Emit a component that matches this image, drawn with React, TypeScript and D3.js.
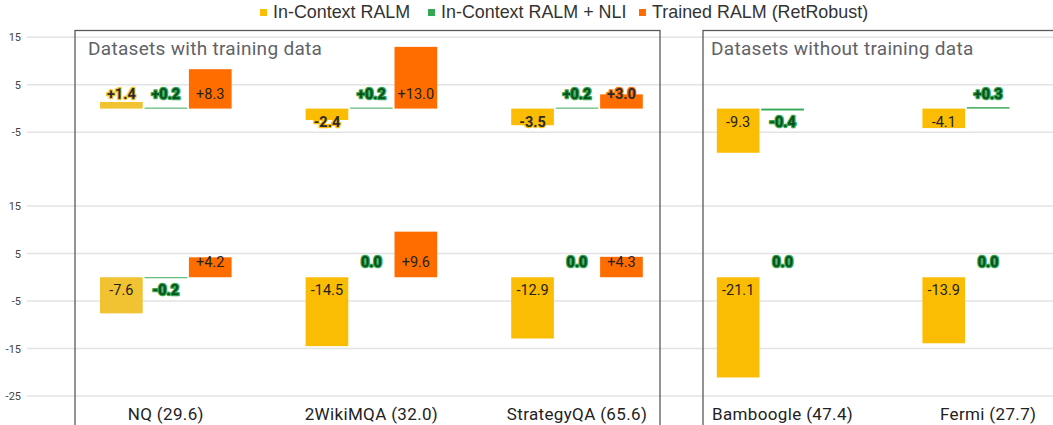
import React from 'react';
import * as d3 from 'd3';

const categories = ['NQ (29.6)', '2WikiMQA (32.0)', 'StrategyQA (65.6)', 'Bamboogle (47.4)', 'Fermi (27.7)'];
const seriesNames = ['In-Context RALM', 'In-Context RALM + NLI', 'Trained RALM (RetRobust)'];
const seriesColors = ['#fbbc04', '#34a853', '#ff6d01'];

// upper panel values
const icRalmTop = [1.4, -2.4, -3.5, -9.3, -4.1];
const nliTop = [0.2, 0.2, 0.2, -0.4, 0.3];
const retRobustTop = [8.3, 13.0, 3.0, null, null];

// lower panel values
const icRalmBottom = [-7.6, -14.5, -12.9, -21.1, -13.9];
const nliBottom = [-0.2, 0.0, 0.0, 0.0, 0.0];
const retRobustBottom = [4.2, 9.6, 4.3, null, null];

const topTicks = [15, 5, -5];
const bottomTicks = [15, 5, -5, -15, -25];

const groupTitles = ['Datasets with training data', 'Datasets without training data'];

const W = 1053;
const H = 425;
const font = 'Roboto, "Noto Sans", Arial, sans-serif';

const x0 = d3.scaleBand<string>().domain(categories).range([63, 1091]).paddingInner(0.36).paddingOuter(0.18);
const x1 = d3.scaleBand<string>().domain(seriesNames).range([0, x0.bandwidth()]).paddingInner(0.04);

const yTop = d3.scaleLinear().domain([-10, 15]).range([156.1, 37.35]);
const yBottom = d3.scaleLinear().domain([-25, 15]).range([396, 206]);

const fmt = (v: number) => (v > 0 ? '+' + v.toFixed(1) : v.toFixed(1));

// NQ bars in the original are a slightly different yellow
const barColor = (s: number, i: number) => (s === 0 && i === 0 ? '#f1c232' : seriesColors[s]);

function Grid({ y, ticks }: { y: d3.ScaleLinear<number, number>; ticks: number[] }) {
  return (
    <g>
      {ticks.map((t) => (
        <g key={t}>
          <line x1={27} x2={W} y1={y(t)} y2={y(t)} stroke="#e3e3e3" strokeWidth={1.5} />
          <text x={21} y={y(t) + 4} textAnchor="end" fontSize={11} fill="#444" fontFamily={font}>{t}</text>
        </g>
      ))}
    </g>
  );
}

function Bars({ y, series }: { y: d3.ScaleLinear<number, number>; series: (number | null)[][] }) {
  const y0 = y(0);
  return (
    <g>
      {series.map((vals, s) =>
        vals.map((v, i) => {
          if (v === null) return null;
          const bx = (x0(categories[i]) as number) + (x1(seriesNames[s]) as number);
          const top = Math.min(y(v), y0);
          const h = Math.abs(y(v) - y0);
          return <rect key={s + '-' + i} x={bx} y={top} width={x1.bandwidth()} height={h} fill={barColor(s, i)} />;
        })
      )}
      {series.map((vals, s) =>
        vals.map((v, i) => {
          if (v === null) return null;
          const cx = (x0(categories[i]) as number) + (x1(seriesNames[s]) as number) + x1.bandwidth() / 2;
          const base = v >= 0 ? y0 - 10 : y0 + 18;
          const barTop = Math.min(y(v), y0);
          const barBot = Math.max(y(v), y0);
          // labels that stick out of their bar get a halo in the bar colour
          const halo = base - 9.5 < barTop - 1 || base + 0.5 > barBot + 1;
          const green = s === 1;
          return (
            <text
              key={'l' + s + '-' + i}
              x={cx}
              y={base}
              textAnchor="middle"
              fontSize={14.5}
              fontFamily={font}
              fontWeight={halo ? 700 : 400}
              fill={halo ? (green ? '#0b4f1f' : '#2a2a2a') : '#222'}
              stroke={halo ? barColor(s, i) : 'none'}
              strokeWidth={halo ? 2.5 : 0}
              strokeLinejoin="round"
              style={{ paintOrder: 'stroke' }}
            >
              {fmt(v)}
            </text>
          );
        })
      )}
    </g>
  );
}

export default function App() {
  const topSeries = [icRalmTop, nliTop, retRobustTop];
  const bottomSeries = [icRalmBottom, nliBottom, retRobustBottom];
  const legendX = [260, 428, 639];
  return (
    <svg width={W} height={H} style={{ position: 'absolute', left: 0, top: 0, background: '#fff' }}>
      <rect width={W} height={H} fill="#fff" />
      <Grid y={yTop} ticks={topTicks} />
      <Grid y={yBottom} ticks={bottomTicks} />

      {/* group boxes */}
      <rect x={75} y={30.5} width={585} height={H} fill="none" stroke="#5a5a5a" strokeWidth={1.3} />
      <rect x={703} y={30.5} width={W} height={H} fill="none" stroke="#5a5a5a" strokeWidth={1.3} />
      <text x={88} y={55} fontSize={19} letterSpacing={0.3} fill="#5f6368" fontFamily={font}>{groupTitles[0]}</text>
      <text x={711} y={55} fontSize={19} letterSpacing={0.3} fill="#5f6368" fontFamily={font}>{groupTitles[1]}</text>

      <Bars y={yTop} series={topSeries} />
      <Bars y={yBottom} series={bottomSeries} />

      {categories.map((c) => (
        <text key={c} x={(x0(c) as number) + x0.bandwidth() / 2} y={420} textAnchor="middle" fontSize={17} letterSpacing={0.35} fill="#222" fontFamily={font}>
          {c}
        </text>
      ))}

      {/* legend */}
      {seriesNames.map((n, s) => (
        <g key={n}>
          <rect x={legendX[s]} y={9} width={7} height={7} fill={seriesColors[s]} />
          <text x={legendX[s] + 13} y={18} fontSize={17.9} fill="#333" fontFamily='"Liberation Sans", Arial, sans-serif'>{n}</text>
        </g>
      ))}
    </svg>
  );
}
